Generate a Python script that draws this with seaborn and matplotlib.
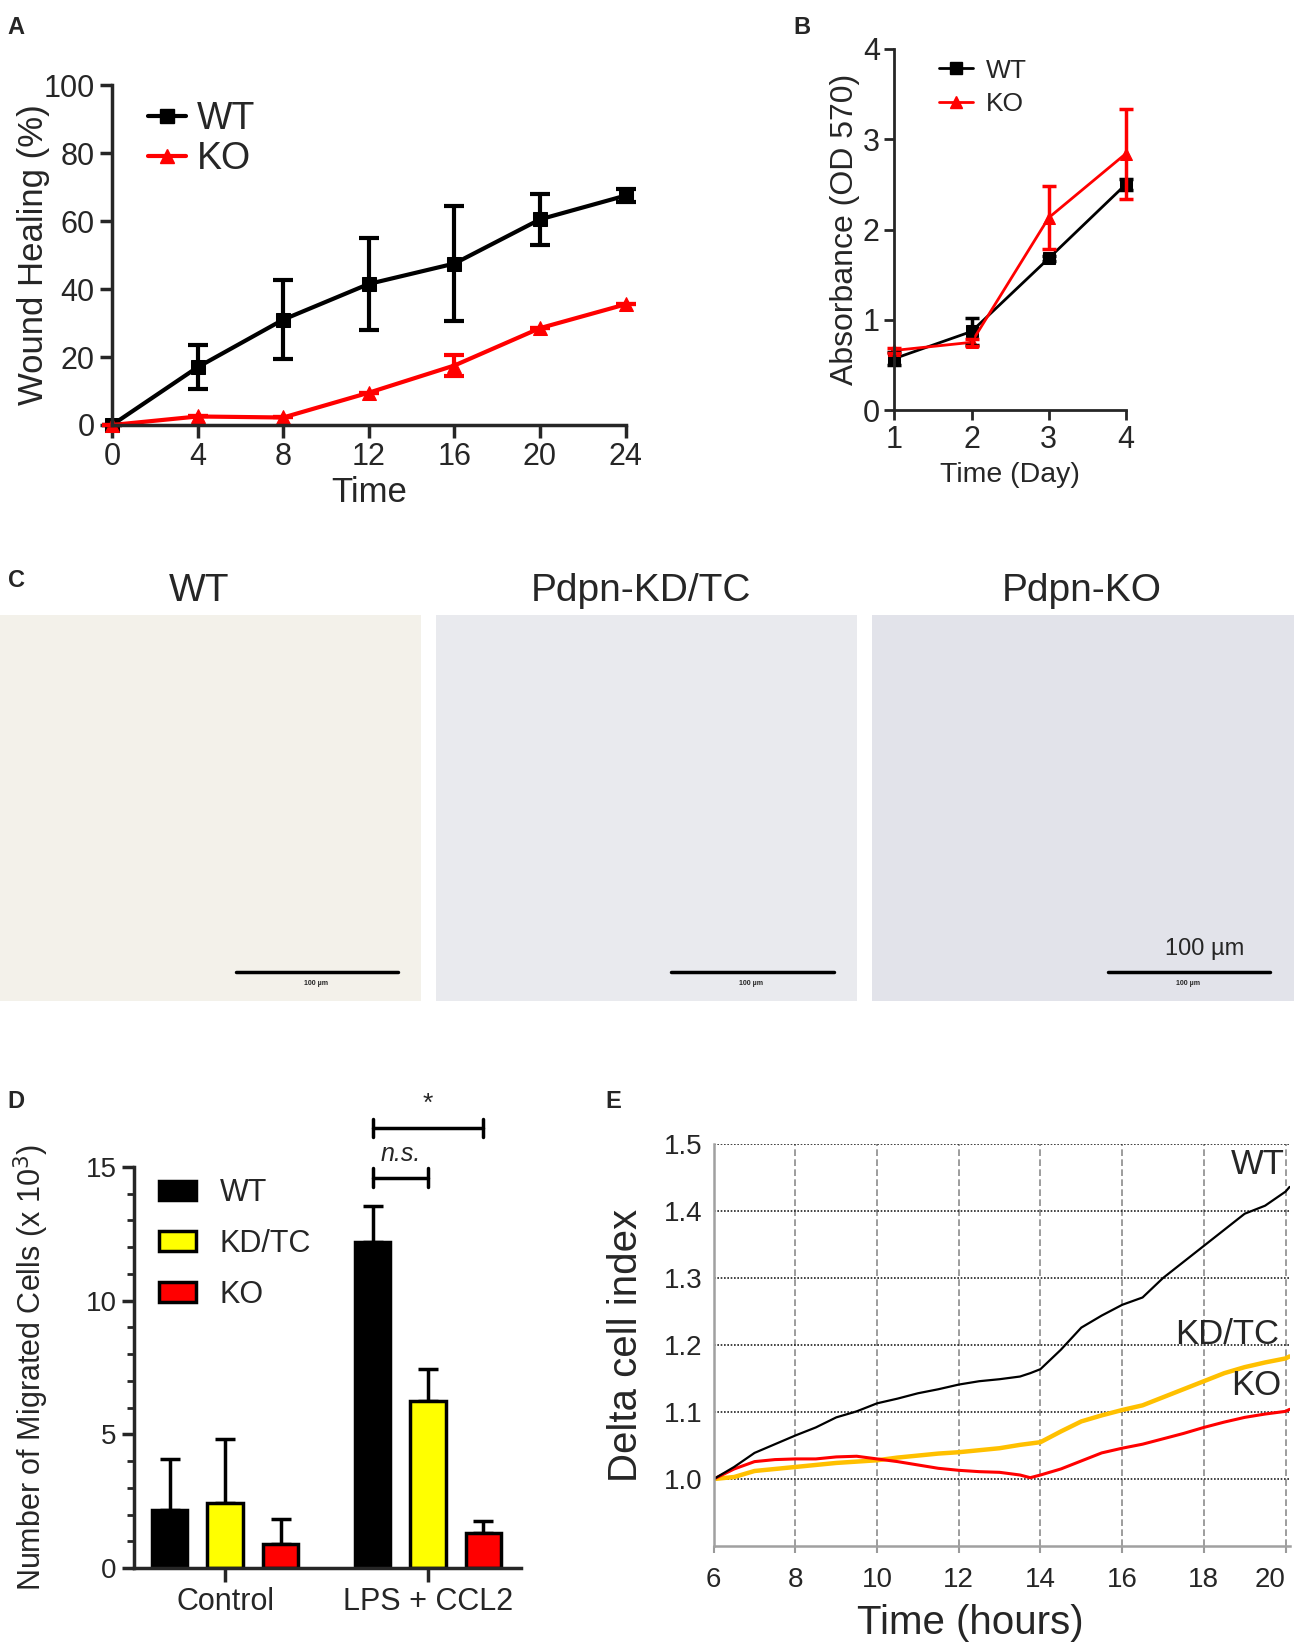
import numpy as np
import pandas as pd
import matplotlib
matplotlib.use("Agg")
import matplotlib.pyplot as plt
from matplotlib.ticker import MultipleLocator, FormatStrFormatter
from matplotlib.lines import Line2D
from matplotlib.patches import Patch
import seaborn as sns

# ---- panel A: wound healing
heal_time = [0, 4, 8, 12, 16, 20, 24]
heal_wt = [0, 17, 31, 41.5, 47.5, 60.5, 67.5]
heal_wt_err = [0, 6.5, 11.7, 13.5, 17, 7.5, 2]
heal_ko = [0, 2.5, 2.2, 9.5, 17.5, 28.5, 35.5]
heal_ko_err = [0, 0, 0, 0, 3, 0, 0]

# ---- panel B: MTT
mtt_day = [1, 2, 3, 4]
mtt_wt = [0.57, 0.87, 1.68, 2.50]
mtt_wt_err = [0.07, 0.15, 0.03, 0.06]
mtt_ko = [0.66, 0.75, 2.13, 2.84]
mtt_ko_err = [0.03, 0.04, 0.35, 0.50]

# ---- panel C: image titles
img_titles = ["WT", "Pdpn-KD/TC", "Pdpn-KO"]

# ---- panel D: transwell migration (x 10^3)
migr_conditions = ["Control", "LPS + CCL2"]
migr_genotypes = ["WT", "KD/TC", "KO"]
migr_wt = [2.18, 12.21]
migr_wt_err = [1.89, 1.31]
migr_kd = [2.45, 6.23]
migr_kd_err = [2.36, 1.21]
migr_ko = [0.89, 1.32]
migr_ko_err = [0.95, 0.45]

# ---- panel E: real-time cell index
rtca_hours = [6, 6.5, 7, 7.5, 8, 8.5, 9, 9.5, 10, 10.5, 11, 11.5, 12, 12.5, 13, 13.5, 13.75,
              14, 14.5, 15, 15.5, 16, 16.5, 17, 17.5, 18, 18.5, 19, 19.5, 20, 20.1]
rtca_wt = [1.0, 1.018, 1.039, 1.052, 1.065, 1.077, 1.092, 1.101, 1.113, 1.120, 1.128, 1.134, 1.141,
           1.146, 1.149, 1.153, 1.158, 1.164, 1.193, 1.226, 1.244, 1.260, 1.271, 1.300, 1.324, 1.348,
           1.372, 1.396, 1.408, 1.429, 1.436]
rtca_kd = [1.0, 1.003, 1.012, 1.015, 1.018, 1.021, 1.024, 1.026, 1.028, 1.032, 1.035, 1.038, 1.040,
           1.043, 1.046, 1.051, 1.053, 1.055, 1.071, 1.086, 1.095, 1.103, 1.110, 1.122, 1.134, 1.146,
           1.158, 1.167, 1.174, 1.180, 1.183]
rtca_ko = [1.0, 1.015, 1.026, 1.029, 1.030, 1.030, 1.033, 1.034, 1.030, 1.026, 1.021, 1.016, 1.013,
           1.011, 1.010, 1.006, 1.002, 1.006, 1.015, 1.027, 1.039, 1.046, 1.052, 1.060, 1.068, 1.077,
           1.085, 1.092, 1.097, 1.101, 1.104]

sns.set_style("ticks")
plt.rcParams["font.family"] = ["Liberation Sans", "DejaVu Sans"]
narrow = ["Liberation Sans Narrow", "Liberation Sans", "DejaVu Sans"]

fig = plt.figure(figsize=(13, 16.44), dpi=100)

# ================= A
axA = fig.add_axes([0.0862, 0.7415, 0.395, 0.2067])
sns.lineplot(x=heal_time, y=heal_wt, ax=axA, color="black", lw=3, marker="s", markersize=10,
             markeredgecolor="black", label="WT")
sns.lineplot(x=heal_time, y=heal_ko, ax=axA, color="#ff0000", lw=3, marker="^", markersize=10,
             markeredgecolor="#ff0000", label="KO")
axA.errorbar(heal_time, heal_wt, yerr=heal_wt_err, fmt="none", ecolor="black", elinewidth=3,
             capsize=7, capthick=3, clip_on=False)
axA.errorbar(heal_time, heal_ko, yerr=heal_ko_err, fmt="none", ecolor="#ff0000", elinewidth=3,
             capsize=7, capthick=3, clip_on=False)
for ln in axA.lines:
    ln.set_clip_on(False)
axA.set_xlim(0, 24)
axA.set_ylim(0, 100)
axA.set_xticks(heal_time)
axA.set_yticks(range(0, 101, 20))
axA.tick_params(width=2.5, length=9, labelsize=22)
for lab in axA.get_xticklabels() + axA.get_yticklabels():
    lab.set_family(narrow)
for s in ["left", "bottom"]:
    axA.spines[s].set_linewidth(2.5)
sns.despine(ax=axA)
axA.set_xlabel("Time", fontsize=25)
axA.set_ylabel("Wound Healing (%)", fontsize=25)
axA.xaxis.set_label_coords(0.5, -0.15)
axA.yaxis.set_label_coords(-0.12, 0.5)
h = [Line2D([], [], color="black", lw=3, marker="s", markersize=10),
     Line2D([], [], color="#ff0000", lw=3, marker="^", markersize=10)]
axA.legend(h, ["WT", "KO"], loc="upper left", bbox_to_anchor=(0.034, 1.008), frameon=False,
           fontsize=27, handlelength=1.0, handletextpad=0.3, labelspacing=0.1, borderpad=0)

# ================= B
axB = fig.add_axes([0.688, 0.7506, 0.178, 0.2196])
sns.lineplot(x=mtt_day, y=mtt_wt, ax=axB, color="black", lw=2, marker="s", markersize=8,
             markeredgecolor="black", label="WT")
sns.lineplot(x=mtt_day, y=mtt_ko, ax=axB, color="#ff0000", lw=2, marker="^", markersize=8,
             markeredgecolor="#ff0000", label="KO")
axB.errorbar(mtt_day, mtt_wt, yerr=mtt_wt_err, fmt="none", ecolor="black", elinewidth=2.5,
             capsize=5, capthick=2.5, clip_on=False)
axB.errorbar(mtt_day, mtt_ko, yerr=mtt_ko_err, fmt="none", ecolor="#ff0000", elinewidth=2.5,
             capsize=5, capthick=2.5, clip_on=False)
for ln in axB.lines:
    ln.set_clip_on(False)
axB.set_xlim(1, 4)
axB.set_ylim(0, 4)
axB.set_xticks(mtt_day)
axB.set_yticks(range(0, 5))
axB.tick_params(width=2, length=7, labelsize=22)
for s in ["left", "bottom"]:
    axB.spines[s].set_linewidth(2)
sns.despine(ax=axB)
axB.set_xlabel("Time (Day)", fontsize=20.5)
axB.set_ylabel("Absorbance (OD 570)", fontsize=23)
axB.xaxis.set_label_coords(0.5, -0.145)
axB.yaxis.set_label_coords(-0.15, 0.5)
h = [Line2D([], [], color="black", lw=2, marker="s", markersize=8),
     Line2D([], [], color="#ff0000", lw=2, marker="^", markersize=8)]
axB.legend(h, ["WT", "KO"], loc="upper left", bbox_to_anchor=(0.135, 1.01), frameon=False,
           fontsize=19, handlelength=1.3, handletextpad=0.5, labelspacing=0.35, borderpad=0)

# ================= C (micrograph placeholders)
img_bg = ["#f3f1ea", "#e9eaee", "#e2e3ea"]
img_left = [0.0, 0.335, 0.671]
img_title_x = [0.473, 0.488, 0.497]
for i, title in enumerate(img_titles):
    axC = fig.add_axes([img_left[i], 0.391, 0.324, 0.235])
    axC.set_facecolor(img_bg[i])
    axC.set_xticks([])
    axC.set_yticks([])
    for s in axC.spines.values():
        s.set_visible(False)
    axC.set_title(title, fontsize=28, pad=10, x=img_title_x[i])
    axC.plot([0.56, 0.945], [0.076, 0.076], transform=axC.transAxes, color="black", lw=2.5)
    axC.text(0.75, 0.055, "100 µm", transform=axC.transAxes, fontsize=5, ha="center", va="top",
             fontweight="bold")
    if i == 2:
        axC.text(0.79, 0.135, "100 µm", transform=axC.transAxes, fontsize=17, ha="center",
                 va="center")

# ================= D
axD = fig.add_axes([0.103, 0.0462, 0.298, 0.244])
migr_df = pd.DataFrame({
    "condition": migr_conditions * 3,
    "genotype": [g for g in migr_genotypes for _ in migr_conditions],
    "cells": migr_wt + migr_kd + migr_ko,
    "err": migr_wt_err + migr_kd_err + migr_ko_err,
})
pal = {"WT": "black", "KD/TC": "#ffff00", "KO": "#ff0000"}
sns.barplot(data=migr_df, x="condition", y="cells", hue="genotype", order=migr_conditions,
            hue_order=migr_genotypes, palette=pal, errorbar=None, width=0.82, gap=0.36,
            edgecolor="black", linewidth=2.5, saturation=1, ax=axD, legend=False)
centers = {}
for cont, g in zip(axD.containers, migr_genotypes):
    sub = migr_df[migr_df.genotype == g].set_index("condition").loc[migr_conditions]
    xs = [b.get_x() + b.get_width() / 2 for b in cont]
    for x, c in zip(xs, migr_conditions):
        centers[(g, c)] = x
    axD.errorbar(xs, sub["cells"], yerr=[np.zeros(len(xs)), sub["err"]], fmt="none",
                 ecolor="black", elinewidth=2.5, capsize=7, capthick=2.5, zorder=0)
axD.set_xlim(-0.45, 1.46)
axD.set_ylim(0, 15)
axD.set_yticks([0, 5, 10, 15])
axD.yaxis.set_minor_locator(MultipleLocator(1))
axD.tick_params(axis="y", width=2.5, length=9, labelsize=20)
axD.tick_params(axis="y", which="minor", width=2, length=5)
axD.tick_params(axis="x", width=2.5, length=10, labelsize=22)
for s in ["left", "bottom"]:
    axD.spines[s].set_linewidth(2.5)
sns.despine(ax=axD)
axD.set_xlabel("")
axD.set_ylabel("Number of Migrated Cells (x 10$^3$)", fontsize=22)
axD.yaxis.set_label_coords(-0.215, 0.5)
h = [Patch(facecolor=pal[g], edgecolor="black", linewidth=2.5) for g in migr_genotypes]
axD.legend(h, migr_genotypes, loc="upper left", bbox_to_anchor=(0.025, 1.01), frameon=False,
           fontsize=22, handlelength=1.2, handleheight=0.6, handletextpad=0.8,
           labelspacing=0.68, borderpad=0)
# significance brackets in the LPS + CCL2 group
for g2, yb, txt, style in [("KO", 16.45, "*", "normal"), ("KD/TC", 14.6, "n.s.", "italic")]:
    x1, x2 = centers[("WT", "LPS + CCL2")], centers[(g2, "LPS + CCL2")]
    axD.plot([x1, x2], [yb, yb], color="black", lw=2.5, clip_on=False)
    for xx in (x1, x2):
        axD.plot([xx, xx], [yb - 0.35, yb + 0.35], color="black", lw=2.5, clip_on=False)
    axD.text((x1 + x2) / 2, yb + 0.45, txt, ha="center", va="bottom", fontsize=19 if txt == "*" else 18,
             style=style)

# ================= E
axE = fig.add_axes([0.549, 0.0596, 0.443, 0.2445])
sns.lineplot(x=rtca_hours, y=rtca_kd, ax=axE, color="#ffc000", lw=3.2)
sns.lineplot(x=rtca_hours, y=rtca_ko, ax=axE, color="#ff0000", lw=2.2)
sns.lineplot(x=rtca_hours, y=rtca_wt, ax=axE, color="black", lw=1.6)
axE.set_xlim(6, 20.1)
axE.set_ylim(0.9, 1.5)
axE.set_xticks(range(6, 21, 2))
axE.set_yticks([1.0, 1.1, 1.2, 1.3, 1.4, 1.5])
axE.yaxis.set_major_formatter(FormatStrFormatter("%.1f"))
axE.xaxis.grid(True, linestyle=(0, (4, 2)), color="#8c8c8c", lw=1.2)
axE.yaxis.grid(True, linestyle=(0, (1, 1)), color="#222222", lw=1.2)
axE.set_axisbelow(True)
axE.tick_params(axis="x", length=5, width=1.5, color="#9a9a9a", labelsize=20, pad=10)
axE.tick_params(axis="y", length=0, labelsize=20, pad=8)
xlabs = axE.get_xticklabels()
xlabs[-1].set_horizontalalignment("right")
for s in ["top", "right"]:
    axE.spines[s].set_visible(False)
for s in ["left", "bottom"]:
    axE.spines[s].set_color("#a0a0a0")
    axE.spines[s].set_linewidth(1.8)
axE.set_xlabel("Time (hours)", fontsize=29)
axE.set_ylabel("Delta cell index", fontsize=29)
axE.xaxis.set_label_coords(0.445, -0.145)
axE.yaxis.set_label_coords(-0.12, 0.5)
axE.text(19.98, 1.469, "WT", ha="right", va="center", fontsize=25)
axE.text(19.85, 1.216, "KD/TC", ha="right", va="center", fontsize=25)
axE.text(19.9, 1.139, "KO", ha="right", va="center", fontsize=25)

# ================= panel letters
for letter, x, y in [("A", 0.006, 0.99), ("B", 0.61, 0.99), ("C", 0.006, 0.654),
                     ("D", 0.006, 0.337), ("E", 0.466, 0.337)]:
    fig.text(x, y, letter, fontsize=17, fontweight="bold", ha="left", va="top")

fig.savefig("out.png", dpi=100)
